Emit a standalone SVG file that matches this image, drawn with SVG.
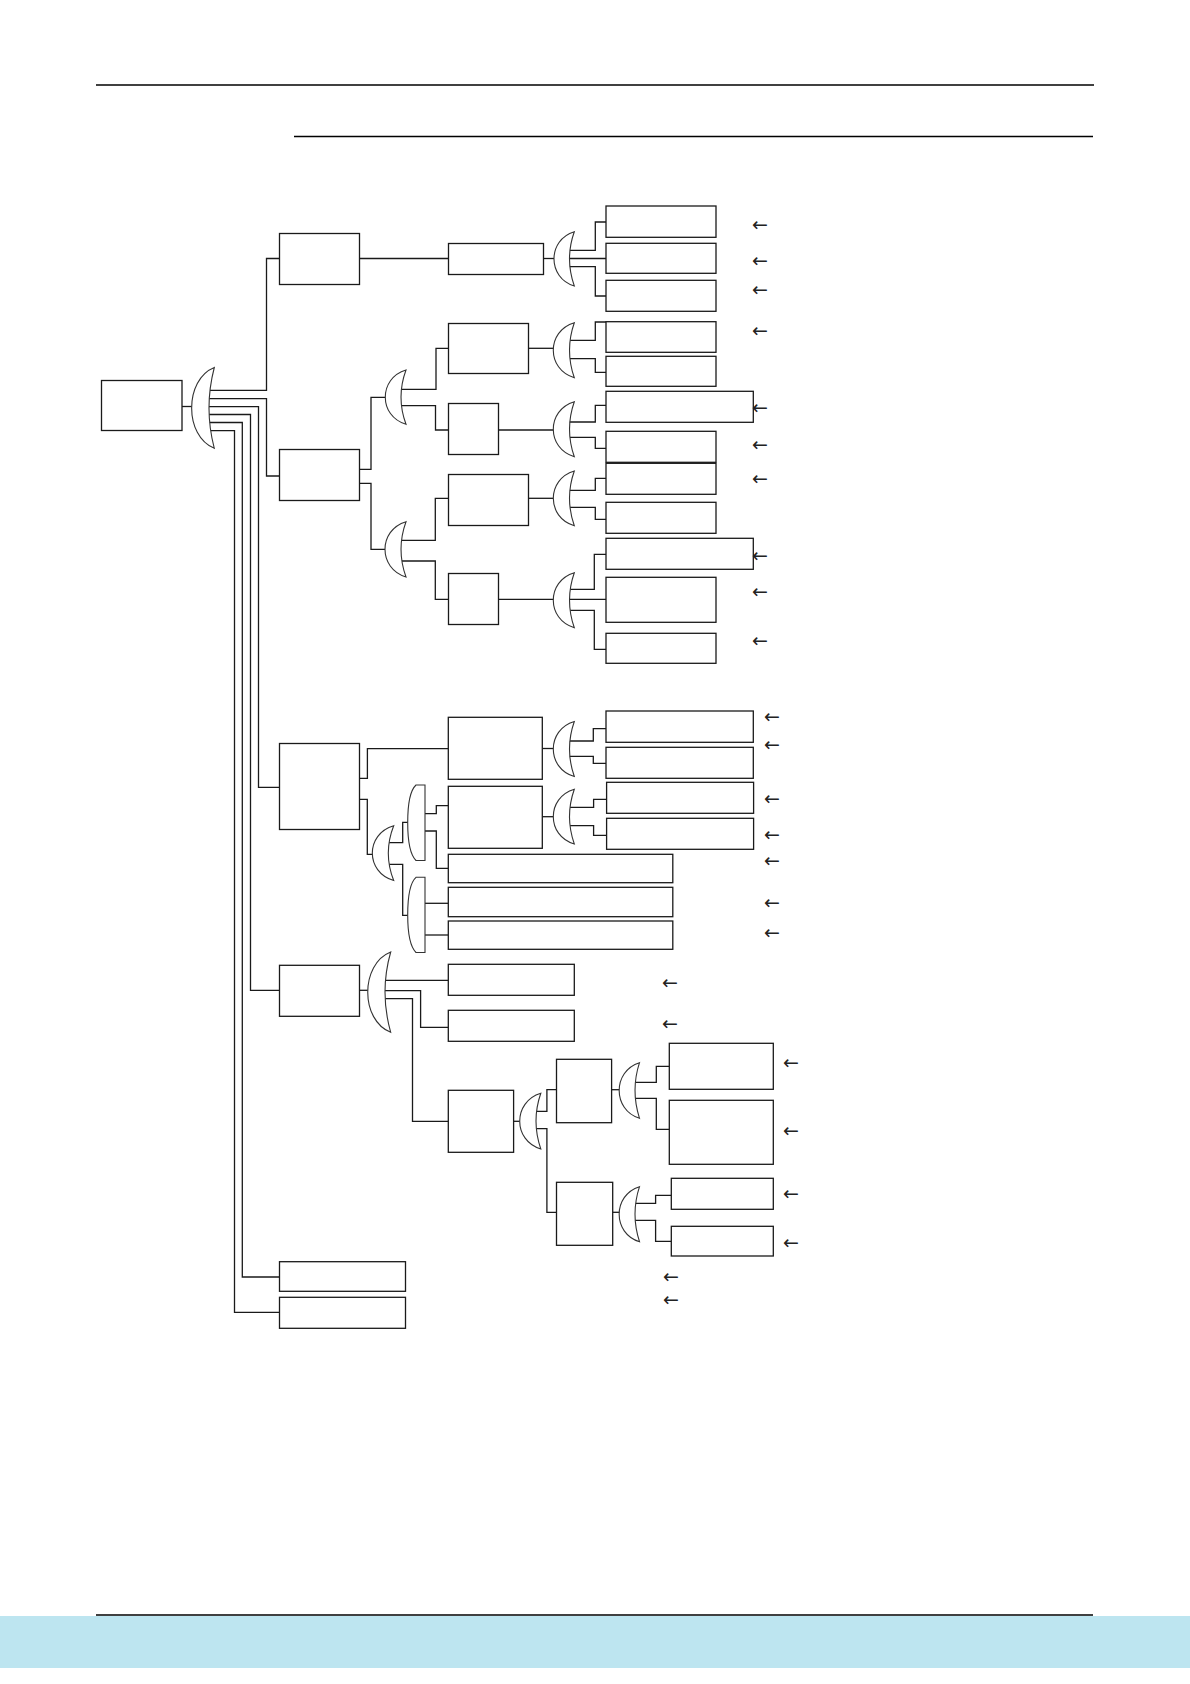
<svg xmlns="http://www.w3.org/2000/svg" width="1190" height="1684" viewBox="0 0 1190 1684">
<style>
.b{fill:#fff;stroke:#1a1a1a;stroke-width:1.3}
.g{fill:#fff;stroke:#333;stroke-width:1.1}
.c{fill:none;stroke:#1a1a1a;stroke-width:1.3}
.r{stroke:#000;stroke-width:1.4}
.a{font-family:"DejaVu Sans","Liberation Sans",sans-serif;font-size:19px;fill:#222}
</style>
<rect x="0" y="0" width="1190" height="1684" fill="#fff"/>
<g id="page">
<line class="r" x1="96" y1="85" x2="1094" y2="85"/>
<line class="r" x1="294" y1="136.5" x2="1093" y2="136.5"/>
<line class="r" x1="96" y1="1615" x2="1093" y2="1615"/>
<rect x="0" y="1616" width="1190" height="52" fill="#bde5f0"/>
</g>
<g id="connectors" class="c">
<path d="M182,406.5 H195"/>
<path d="M200,390.3 H266.5 V258.5 H279.5"/>
<path d="M200,398.7 H266.5 V476 H279.5"/>
<path d="M200,406.7 H258.5 V787.3 H279.5"/>
<path d="M200,414.5 H250.5 V990.3 H279.5"/>
<path d="M200,422.5 H242.3 V1277 H279.5"/>
<path d="M200,430.7 H234.5 V1312.3 H279.5"/>
<path d="M359.5,258.5 H448.5"/>
<path d="M543.5,258.5 H556"/>
<path d="M565,250.3 H595.3 V222 H606"/>
<path d="M565,258.5 H606"/>
<path d="M565,266.7 H595.3 V296 H606"/>
<path d="M359.5,469.3 H371 V397.3 H388"/>
<path d="M359.5,483.3 H371 V549.3 H388"/>
<path d="M395,389.3 H436 V348.3 H448.5"/>
<path d="M395,405.7 H435.5 V430 H448.5"/>
<path d="M528.5,348.3 H556"/>
<path d="M565,340.3 H595.3 V322 H606"/>
<path d="M565,358.7 H595.3 V372.3 H606"/>
<path d="M498.5,430 H556"/>
<path d="M565,422 H595.3 V405.3 H606"/>
<path d="M565,437.3 H595.3 V448.3 H606"/>
<path d="M395,540.3 H435.3 V498.3 H448.5"/>
<path d="M395,561 H435.3 V599.3 H448.5"/>
<path d="M528.5,498.3 H556"/>
<path d="M565,490.3 H595.3 V478.3 H606"/>
<path d="M565,507.3 H595.3 V519.3 H606"/>
<path d="M498.5,599.3 H556"/>
<path d="M565,589.3 H594.3 V554.3 H606"/>
<path d="M565,599.3 H606"/>
<path d="M565,610.3 H594.3 V649.3 H606"/>
<path d="M359.5,778.3 H367.4 V748.7 H448.3"/>
<path d="M359.5,799.3 H367.3 V854.3 H375"/>
<path d="M542.3,748.5 H556"/>
<path d="M565,741 H593.3 V728.7 H606"/>
<path d="M565,756.3 H593.3 V763.3 H606"/>
<path d="M383,842.7 H402.7 V822.3 H410"/>
<path d="M383,864.3 H402.7 V915.3 H410"/>
<path d="M424,813.7 H436.3 V805.7 H448.3"/>
<path d="M424,831 H436.3 V868.3 H448.3"/>
<path d="M424,903.3 H448.3"/>
<path d="M424,935 H448.3"/>
<path d="M542.3,816.7 H556"/>
<path d="M565,807.3 H593.6 V799.3 H606.6"/>
<path d="M565,825.7 H593.6 V835.3 H606.6"/>
<path d="M359.5,990.3 H370"/>
<path d="M378,980.3 H448.3"/>
<path d="M378,990.7 H420.6 V1027.3 H448.3"/>
<path d="M378,998.7 H412.5 V1121.3 H448.3"/>
<path d="M513.6,1121.3 H522"/>
<path d="M530,1111.3 H546.9 V1089.7 H556.5"/>
<path d="M530,1128.7 H546.9 V1212.3 H556.5"/>
<path d="M611.6,1089.7 H621"/>
<path d="M629,1082.3 H656.3 V1066.3 H669.3"/>
<path d="M629,1098.3 H656.3 V1129.3 H669.3"/>
<path d="M612.7,1212.3 H621"/>
<path d="M629,1203.3 H655.6 V1195.3 H671.3"/>
<path d="M629,1220.3 H655.6 V1241.3 H671.3"/>
</g>
<g id="gates" class="g">
<path id="c1" d="M214.3,367.5 C184.1,379.6 184.1,436.2 214.3,448.3 Q203.7,408 214.3,367.5 Z"/>
<path id="c2" d="M574.3,231.7 C547.2,239.8 547.2,277.9 574.3,286 Q564.7,258.8 574.3,231.7 Z"/>
<path id="c3" d="M406,370 C378.4,378.1 378.4,416.2 406,424.3 Q396,397.2 406,370 Z"/>
<path id="c4" d="M574.3,322.7 C546.3,331 546.3,369.4 574.3,377.7 Q564.7,350.2 574.3,322.7 Z"/>
<path id="c5" d="M574.3,401.7 C546.3,410 546.3,448.4 574.3,456.7 Q564.7,429.2 574.3,401.7 Z"/>
<path id="c6" d="M574.3,471 C546.3,479.2 546.3,517.5 574.3,525.7 Q564.7,498.3 574.3,471 Z"/>
<path id="c7" d="M406,521.7 C378,530 378,568.7 406,577 Q396,549.3 406,521.7 Z"/>
<path id="c8" d="M574.3,572.7 C546.3,581 546.3,619.4 574.3,627.7 Q564.7,600.2 574.3,572.7 Z"/>
<path id="c9" d="M574.3,721.5 C546.3,729.7 546.3,768.2 574.3,776.5 Q564.7,749 574.3,721.5 Z"/>
<path id="c10" d="M393.7,825.7 C365.2,833.9 365.2,872.3 393.7,880.5 Q382.9,853.1 393.7,825.7 Z"/>
<path id="c11" d="M425,785 H416 C409.5,791 407.7,806 407.7,822.7 C407.7,839 409.5,854 416,860.5 H425 Z"/>
<path id="c12" d="M425,877.3 H416 C409.5,883 407.7,898 407.7,915 C407.7,932 409.5,946 416,952.5 H425 Z"/>
<path id="c13" d="M574.3,789.3 C546.3,797.5 546.3,835.8 574.3,844 Q564.7,816.6 574.3,789.3 Z"/>
<path id="c14" d="M390.7,952 C360.1,964 360.1,1020.3 390.7,1032.3 Q379.3,992 390.7,952 Z"/>
<path id="c15" d="M540.8,1093.3 C512.7,1101.7 512.7,1140.6 540.8,1149 Q531.2,1121 540.8,1093.3 Z"/>
<path id="c16" d="M639.5,1062.7 C612.4,1071 612.4,1110 639.5,1118.3 Q630.5,1090.5 639.5,1062.7 Z"/>
<path id="c17" d="M639.5,1186.7 C612.4,1195 612.4,1233.5 639.5,1241.7 Q630.5,1214.2 639.5,1186.7 Z"/>
</g>
<g id="nodes" class="b">
<rect id="n0" x="101.5" y="380.5" width="80.5" height="50"/>
<rect id="n1" x="279.5" y="233.5" width="80" height="51"/>
<rect id="n1a" x="448.5" y="243.5" width="95" height="31"/>
<rect id="l1" x="606" y="206" width="110" height="31.3"/>
<rect id="l2" x="606" y="243.3" width="110" height="30"/>
<rect id="l3" x="606" y="280.3" width="110" height="31"/>
<rect id="n2" x="279.5" y="449.5" width="80" height="51"/>
<rect id="n2a" x="448.5" y="323.5" width="80" height="50"/>
<rect id="l4" x="606" y="321.7" width="110" height="30.6"/>
<rect id="l5" x="606" y="356.3" width="110" height="30"/>
<rect id="n2b" x="448.5" y="403.5" width="50" height="51"/>
<rect id="l6" x="606" y="391.3" width="147.3" height="31"/>
<rect id="l7" x="606" y="431.3" width="110" height="31"/>
<rect id="n2c" x="448.5" y="474.5" width="80" height="51"/>
<rect id="l8" x="606" y="463.3" width="110" height="31"/>
<rect id="l9" x="606" y="502.3" width="110" height="31"/>
<rect id="n2d" x="448.5" y="573.5" width="50" height="51"/>
<rect id="l10" x="606" y="538.3" width="147.3" height="31"/>
<rect id="l11" x="606" y="577.3" width="110" height="45"/>
<rect id="l12" x="606" y="633.3" width="110" height="30"/>
<rect id="n3" x="279.5" y="743.5" width="80" height="86"/>
<rect id="n3a" x="448.3" y="717.3" width="94" height="62"/>
<rect id="l13" x="606" y="711" width="147.3" height="31.3"/>
<rect id="l14" x="606" y="747.3" width="147.3" height="31"/>
<rect id="n3b" x="448.3" y="786.3" width="94" height="62"/>
<rect id="l15" x="606.6" y="782.3" width="147" height="31"/>
<rect id="l16" x="606.6" y="818.3" width="147" height="31"/>
<rect id="l17" x="448.3" y="854.3" width="224.5" height="28.4"/>
<rect id="l18" x="448.3" y="887.3" width="224.5" height="29.4"/>
<rect id="l19" x="448.3" y="921" width="224.5" height="28.3"/>
<rect id="n4" x="279.5" y="965.3" width="80" height="51"/>
<rect id="l20" x="448.3" y="964.3" width="126" height="31"/>
<rect id="l21" x="448.3" y="1010.3" width="126" height="31"/>
<rect id="n4a" x="448.3" y="1090.3" width="65.3" height="62"/>
<rect id="n4b" x="556.5" y="1059.3" width="55.1" height="63.4"/>
<rect id="l22" x="669.3" y="1043.3" width="104" height="46"/>
<rect id="l23" x="669.3" y="1100.3" width="104" height="64"/>
<rect id="n4c" x="556.5" y="1182.3" width="56.2" height="63"/>
<rect id="l24" x="671.3" y="1178.3" width="102" height="31"/>
<rect id="l25" x="671.3" y="1226.3" width="102" height="29.7"/>
<rect id="n5" x="279.5" y="1261.7" width="126" height="29.6"/>
<rect id="n6" x="279.5" y="1297.3" width="126" height="31"/>
</g>
<g id="arrows" class="a">
<text x="752" y="230.5">←</text>
<text x="752" y="266.5">←</text>
<text x="752" y="296">←</text>
<text x="752" y="337">←</text>
<text x="752" y="414">←</text>
<text x="752" y="451">←</text>
<text x="752" y="485">←</text>
<text x="752" y="562">←</text>
<text x="752" y="598">←</text>
<text x="752" y="647">←</text>
<text x="764" y="723">←</text>
<text x="764" y="751">←</text>
<text x="764" y="804.5">←</text>
<text x="764" y="841">←</text>
<text x="764" y="867">←</text>
<text x="764" y="909">←</text>
<text x="764" y="939">←</text>
<text x="662" y="989">←</text>
<text x="662" y="1029.5">←</text>
<text x="783" y="1069">←</text>
<text x="783" y="1137">←</text>
<text x="783" y="1200">←</text>
<text x="783" y="1248.5">←</text>
<text x="663" y="1283">←</text>
<text x="663" y="1305.5">←</text>
</g>
</svg>
